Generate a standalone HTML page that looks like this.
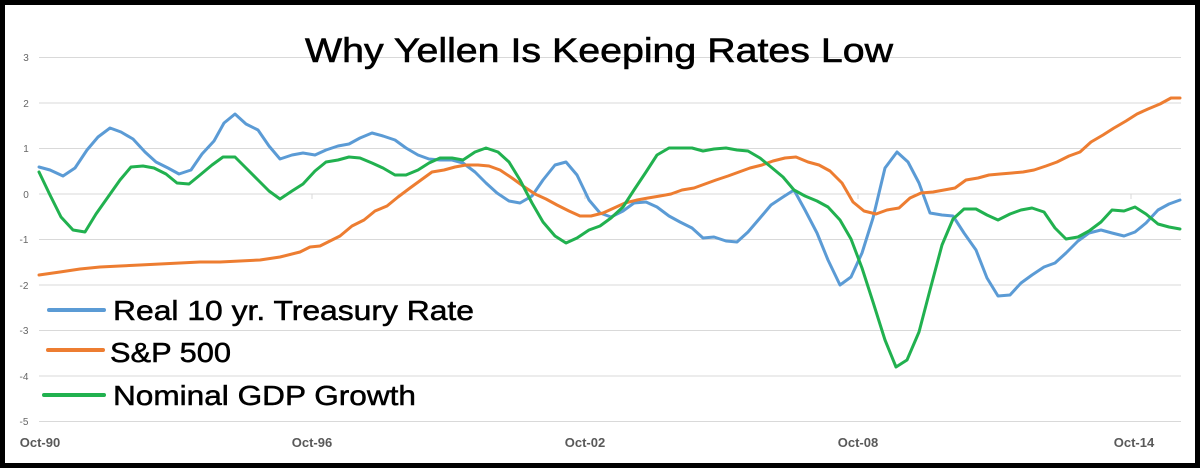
<!DOCTYPE html>
<html><head><meta charset="utf-8"><style>
html,body{margin:0;padding:0;background:#fff}
svg{display:block}
</style></head><body>
<svg width="1200" height="468" viewBox="0 0 1200 468" xmlns="http://www.w3.org/2000/svg" font-family="Liberation Sans, sans-serif">
<rect x="0" y="0" width="1200" height="468" fill="#fff"/>
<rect x="2.5" y="2.5" width="1195" height="463" fill="none" stroke="#000" stroke-width="5"/>
<g stroke="#d9d9d9" stroke-width="1">
<line x1="39" y1="57.5" x2="1181" y2="57.5"/>
<line x1="39" y1="103" x2="1181" y2="103"/>
<line x1="39" y1="148.5" x2="1181" y2="148.5"/>
<line x1="39" y1="194" x2="1181" y2="194"/>
<line x1="39" y1="239.5" x2="1181" y2="239.5"/>
<line x1="39" y1="285" x2="1181" y2="285"/>
<line x1="39" y1="330.5" x2="1181" y2="330.5"/>
<line x1="39" y1="376" x2="1181" y2="376"/>
<line x1="39" y1="421.5" x2="1181" y2="421.5"/>
<line x1="312" y1="194" x2="312" y2="199"/>
<line x1="585" y1="194" x2="585" y2="199"/>
<line x1="858" y1="194" x2="858" y2="199"/>
<line x1="1131" y1="194" x2="1131" y2="199"/>
</g>
<g font-size="10" fill="#666" text-anchor="middle">
<text x="26" y="61">3</text><text x="26" y="107">2</text><text x="26" y="152">1</text><text x="26" y="198">0</text>
<text x="24" y="243">-1</text><text x="24" y="289">-2</text><text x="24" y="334">-3</text><text x="24" y="380">-4</text><text x="24" y="425">-5</text>
</g>
<g font-size="13" font-weight="bold" fill="#595959" text-anchor="middle">
<text x="40" y="447">Oct-90</text><text x="312" y="447">Oct-96</text><text x="585" y="447">Oct-02</text><text x="858" y="447">Oct-08</text><text x="1134" y="447">Oct-14</text>
</g>
<text x="305" y="62" font-size="34" fill="#000" stroke="#000" stroke-width="0.6" textLength="588" lengthAdjust="spacingAndGlyphs">Why Yellen Is Keeping Rates Low</text>
<g fill="none" stroke-width="3" stroke-linejoin="round" stroke-linecap="round">
<polyline stroke="#5b9bd5" points="39,167 50,170 63,176 75,168 87,150 98,137 110,128 121,132 133,139 145,152 156,162 168,168 179,174 191,170 202,154 214,141 224,123 235,114 246,124 258,130 269,146 280,159 292,155 303,153 315,155 326,150 338,146 349,144 360,138 372,133 383,136 395,140 406,148 418,155 429,159 440,160 452,160 463,163 475,172 486,183 497,193 509,201 520,203 532,196 543,180 555,165 566,162 577,175 589,200 600,213 611,217 623,211 634,203 646,202 657,207 669,216 680,222 692,228 703,238 714,237 726,241 737,242 748,232 760,218 771,205 783,197 794,190 805,210 817,233 828,260 840,285 851,277 862,253 873,218 885,168 897,152 908,162 919,183 930,213 942,215 953,216 964,233 976,250 987,278 998,296 1010,295 1021,283 1032,275 1044,267 1055,263 1066,253 1078,241 1089,233 1101,230 1112,233 1124,236 1135,232 1146,223 1158,210 1169,204 1180,200"/>
<polyline stroke="#ed7d31" points="39,275 60,272 80,269 100,267 120,266 140,265 160,264 180,263 200,262 220,262 240,261 260,260 280,257 300,252 310,247 320,246 340,236 352,226 364,220 375,211 387,206 398,197 410,188 421,180 432,172 444,170 455,167 466,165 478,165 489,166 500,170 512,178 523,186 535,194 546,199 557,205 569,211 580,216 591,216 603,213 614,208 625,203 637,200 648,198 660,196 671,194 682,190 694,188 705,184 716,180 728,176 739,172 750,168 762,165 773,161 785,158 796,157 808,162 819,165 830,171 842,183 853,202 864,211 876,214 887,210 899,208 910,198 921,193 933,192 944,190 955,188 966,180 978,178 989,175 1000,174 1012,173 1023,172 1034,170 1046,166 1057,162 1069,156 1080,152 1091,142 1103,135 1114,128 1126,121 1137,114 1148,109 1160,104 1171,98 1180,98"/>
<polyline stroke="#21b14f" points="39,172 50,195 61,217 73,230 85,232 96,214 108,197 120,180 131,167 143,166 154,168 166,174 177,183 189,184 200,175 212,165 223,157 235,157 246,168 258,180 269,191 280,199 292,191 303,184 315,171 326,162 338,160 349,157 360,158 372,163 383,168 395,175 406,175 418,170 429,163 440,158 452,158 463,160 475,152 486,148 498,152 509,162 520,180 532,203 543,222 555,236 566,243 577,238 589,230 600,226 611,218 623,207 634,190 646,172 657,155 669,148 680,148 692,148 703,151 714,149 726,148 737,150 748,151 760,158 771,167 783,177 794,190 805,196 817,201 828,207 840,220 851,239 862,268 873,302 885,340 896,367 907,360 919,332 930,290 942,245 953,219 964,209 976,209 987,215 998,220 1010,214 1021,210 1032,208 1044,212 1055,228 1066,239 1078,237 1089,231 1101,222 1112,210 1124,211 1135,207 1146,214 1158,224 1169,227 1180,229"/>
</g>
<g stroke-width="4" stroke-linecap="round">
<line x1="49" y1="310" x2="104" y2="310" stroke="#5b9bd5"/>
<line x1="48" y1="350" x2="103" y2="350" stroke="#ed7d31"/>
<line x1="44" y1="395" x2="104" y2="395" stroke="#21b14f"/>
</g>
<g font-size="28" fill="#000" stroke="#000" stroke-width="0.5">
<text x="113" y="320" textLength="361" lengthAdjust="spacingAndGlyphs">Real 10 yr. Treasury Rate</text>
<text x="110" y="362" textLength="121" lengthAdjust="spacingAndGlyphs">S&amp;P 500</text>
<text x="113" y="405" textLength="303" lengthAdjust="spacingAndGlyphs">Nominal GDP Growth</text>
</g>
</svg>
</body></html>
